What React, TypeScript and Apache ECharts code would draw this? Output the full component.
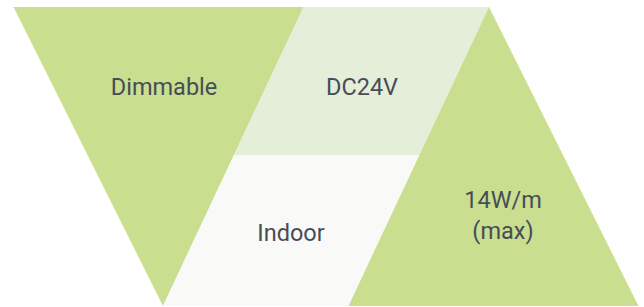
import React, { useEffect, useRef } from "react";
import * as echarts from "echarts";

const labels = ["Dimmable", "DC24V", "Indoor", "14W/m\n(max)"];
const colors = ["#c9de8f", "#e4eed8", "#f9f9f7", "#c9de8f"];

const TOP = 7;
const MID = 155;
const BOT = 306;

export default function App() {
  const ref = useRef<HTMLDivElement>(null);
  useEffect(() => {
    document.body.style.margin = "0";
    const chart = echarts.init(ref.current!, undefined, { renderer: "svg" });
    const slopeL = 0.5;
    const slopeR = 0.47;
    const apexL = 163;
    const apexR = 489;
    const leftTri = [
      [apexL - slopeL * (BOT - TOP), TOP],
      [apexL + slopeR * (BOT - TOP), TOP],
      [apexL, BOT],
    ];
    const rightTri = [
      [apexR, TOP],
      [apexR + slopeL * (BOT - TOP), BOT],
      [apexR - slopeR * (BOT - TOP), BOT],
    ];
    const xL = (y: number) => apexL + slopeR * (BOT - y);
    const xR = (y: number) => apexR - slopeR * (y - TOP);
    const topTrap = [
      [xL(TOP), TOP],
      [xR(TOP), TOP],
      [xR(MID), MID],
      [xL(MID), MID],
    ];
    const botTrap = [
      [xL(MID), MID],
      [xR(MID), MID],
      [xR(BOT), BOT],
      [xL(BOT), BOT],
    ];
    const shapes = [leftTri, topTrap, botTrap, rightTri];
    const textPos = [
      [164, 87],
      [362, 87],
      [291, 233],
      [503, 215],
    ];
    const graphic: any[] = [];
    shapes.forEach((pts, i) => {
      graphic.push({
        type: "polygon",
        shape: { points: pts },
        style: { fill: colors[i] },
        silent: true,
      });
    });
    labels.forEach((t, i) => {
      graphic.push({
        type: "text",
        x: textPos[i][0],
        y: textPos[i][1],
        style: {
          text: t,
          fill: "#464d57",
          font: '400 23.5px Roboto, "Noto Sans", sans-serif',
          textAlign: "center",
          textVerticalAlign: "middle",
          lineHeight: 31,
        },
        silent: true,
      });
    });
    chart.setOption({ animation: false, graphic });
    return () => chart.dispose();
  }, []);
  return <div ref={ref} style={{ width: 644, height: 307 }} />;
}
